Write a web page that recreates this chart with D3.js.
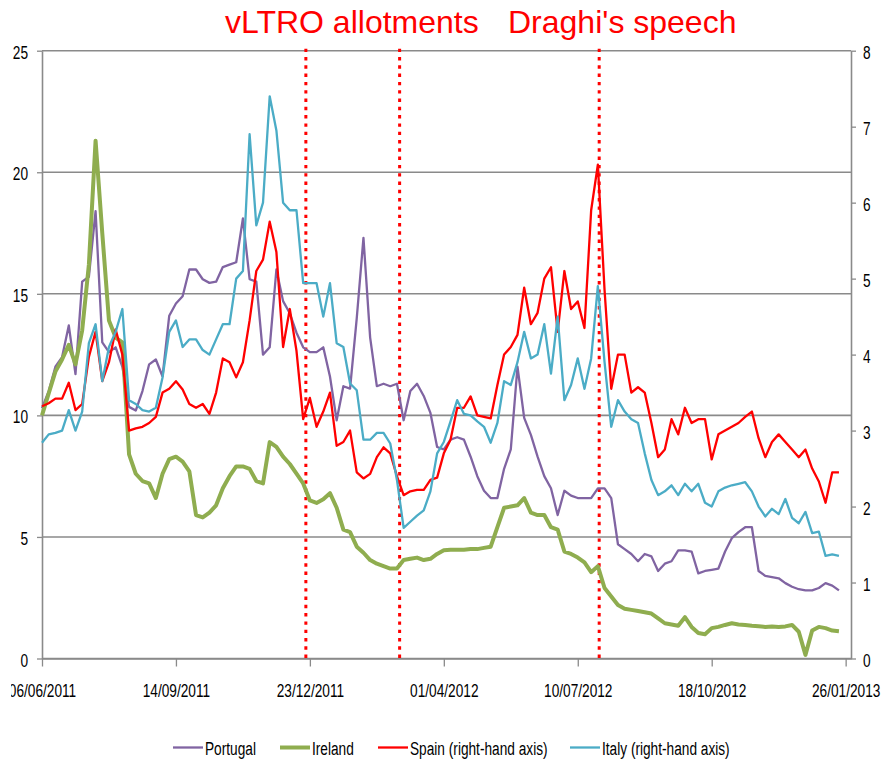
<!DOCTYPE html>
<html>
<head>
<meta charset="utf-8">
<script src="https://cdn.jsdelivr.net/npm/d3@7"></script>
<style>
body { margin: 0; background: #fff; }
svg { display: block; }
</style>
</head>
<body>
<svg id="chart"></svg>
<script>
// data, one value every 5 days from 06/06/2011
var startDate = "2011-06-06";
var stepDays = 5;

var portugal = [10.3, 11.0, 12.0, 12.4, 13.7, 11.7, 15.5, 15.7, 18.4, 13.0,
  12.6, 12.8, 12.0, 10.35, 10.2, 11.0, 12.1, 12.3, 11.6, 14.1,
  14.6, 14.9, 16.0, 16.0, 15.6, 15.45, 15.5, 16.1, 16.2, 16.3,
  18.1, 15.6, 15.5, 12.5, 12.8, 16.0, 14.7, 14.2, 13.4, 12.8,
  12.6, 12.6, 12.8, 11.6, 9.8, 11.2, 11.1, 14.0, 17.3, 13.2,
  11.2, 11.3, 11.2, 11.3, 9.8, 11.0, 11.3, 10.8, 10.1, 8.7,
  8.6, 9.0, 9.1, 9.0, 8.3, 7.5, 6.9, 6.6, 6.6, 7.8,
  8.6, 12.0, 9.9, 9.2, 8.3, 7.5, 7.0, 5.9, 6.9, 6.7,
  6.6, 6.6, 6.6, 7.0, 7.0, 6.6, 4.7, 4.5, 4.3, 4.0,
  4.3, 4.2, 3.6, 3.9, 4.0, 4.45, 4.45, 4.4, 3.5, 3.6,
  3.65, 3.7, 4.4, 4.95, 5.2, 5.4, 5.4, 3.6, 3.4, 3.35,
  3.3, 3.1, 2.95, 2.85, 2.8, 2.8, 2.9, 3.1, 3.0, 2.8];

var ireland = [10.0, 10.9, 11.8, 12.3, 12.9, 12.1, 13.5, 16.2, 21.3, 17.5,
  13.9, 13.2, 13.0, 8.4, 7.6, 7.3, 7.2, 6.6, 7.6, 8.2,
  8.3, 8.1, 7.7, 5.9, 5.8, 6.0, 6.3, 7.0, 7.5, 7.9,
  7.9, 7.8, 7.3, 7.2, 8.9, 8.7, 8.3, 8.0, 7.6, 7.2,
  6.5, 6.4, 6.55, 6.8, 6.2, 5.3, 5.2, 4.6, 4.35, 4.05,
  3.9, 3.8, 3.7, 3.7, 4.05, 4.1, 4.15, 4.05, 4.1, 4.3,
  4.45, 4.47, 4.47, 4.47, 4.5, 4.5, 4.55, 4.6, 5.4, 6.2,
  6.25, 6.3, 6.6, 6.0, 5.9, 5.9, 5.4, 5.3, 4.4, 4.3,
  4.15, 3.95, 3.55, 3.8, 2.9, 2.55, 2.2, 2.05, 2.0, 1.95,
  1.9, 1.85, 1.65, 1.45, 1.4, 1.35, 1.7, 1.3, 1.05, 1.0,
  1.25, 1.3, 1.38, 1.45, 1.4, 1.38, 1.35, 1.33, 1.3, 1.32,
  1.3, 1.32, 1.38, 1.1, 0.15, 1.15, 1.3, 1.25, 1.15, 1.12];

var spain = [3.32, 3.36, 3.42, 3.42, 3.63, 3.27, 3.35, 3.97, 4.3, 3.65,
  3.9, 4.33, 4.0, 3.0, 3.03, 3.05, 3.1, 3.18, 3.5, 3.55,
  3.65, 3.54, 3.35, 3.3, 3.35, 3.22, 3.5, 3.95, 3.9, 3.7,
  3.9, 4.45, 5.1, 5.25, 5.75, 5.35, 4.1, 4.6, 4.05, 3.15,
  3.43, 3.05, 3.25, 3.5, 2.8, 2.85, 3.0, 2.45, 2.37, 2.43,
  2.65, 2.78, 2.7, 2.4, 2.15, 2.2, 2.22, 2.22, 2.35, 2.38,
  2.7, 2.88, 3.3, 3.3, 3.45, 3.2, 3.18, 3.16, 3.6, 4.0,
  4.1, 4.26, 4.88, 4.4, 4.55, 5.0, 5.15, 4.3, 5.1, 4.6,
  4.7, 4.35, 5.9, 6.5, 4.85, 3.55, 4.0, 4.0, 3.5, 3.57,
  3.5, 3.1, 2.65, 2.75, 3.15, 2.95, 3.3, 3.1, 3.15, 3.15,
  2.62, 2.95, 3.0, 3.05, 3.1, 3.18, 3.25, 2.9, 2.65, 2.85,
  2.95, 2.85, 2.75, 2.65, 2.75, 2.5, 2.33, 2.05, 2.45, 2.45];

var italy = [2.84, 2.95, 2.97, 3.0, 3.27, 3.0, 3.25, 4.15, 4.4, 3.65,
  4.1, 4.3, 4.6, 3.4, 3.35, 3.27, 3.25, 3.3, 3.7, 4.3,
  4.45, 4.1, 4.2, 4.2, 4.06, 4.0, 4.2, 4.4, 4.4, 5.0,
  5.1, 6.9, 5.7, 6.0, 7.4, 6.95, 6.0, 5.9, 5.9, 4.94,
  4.94, 4.94, 4.5, 4.94, 4.15, 4.1, 3.62, 3.53, 2.88, 2.88,
  2.97, 2.97, 2.83, 2.35, 1.72, 1.8, 1.88, 1.95, 2.2, 2.7,
  2.85, 3.12, 3.4, 3.22, 3.2, 3.12, 3.05, 2.84, 3.1, 3.65,
  3.6, 3.9, 4.3, 3.95, 4.0, 4.4, 3.75, 4.5, 3.4, 3.6,
  3.95, 3.55, 3.95, 4.9, 3.9, 3.05, 3.4, 3.25, 3.15, 3.1,
  2.7, 2.35, 2.15, 2.2, 2.28, 2.15, 2.3, 2.2, 2.3, 2.05,
  2.0, 2.2, 2.25, 2.28, 2.3, 2.32, 2.2, 2.0, 1.87, 1.97,
  1.9, 2.1, 1.85, 1.78, 1.93, 1.65, 1.67, 1.35, 1.37, 1.35];

var dateTicks = ["2011-06-06", "2011-09-14", "2011-12-23", "2012-04-01",
  "2012-07-10", "2012-10-18", "2013-01-26"];
var leftTicks = [0, 5, 10, 15, 20, 25];
var rightTicks = [0, 1, 2, 3, 4, 5, 6, 7, 8];
var eventDates = ["2011-12-20", "2012-02-28", "2012-07-26"];
var legendNames = ["Portugal", "Ireland", "Spain (right-hand axis)", "Italy (right-hand axis)"];

// layout
var W = 883, H = 760;
var x0 = 42, x1 = 851, yTop = 50.7, yBot = 658.5;
var grey = "#8a8a8a";
var labelFont = "'Liberation Sans', Arial, sans-serif";
var labelSize = 19, squeeze = "scale(0.72,1)";

var svg = d3.select("#chart").attr("width", W).attr("height", H);

var parse = d3.utcParse("%Y-%m-%d");
var fmt = d3.utcFormat("%d/%m/%Y");
var start = parse(startDate);
var dates = portugal.map(function(d, i){ return d3.utcDay.offset(start, i * stepDays); });

var x = d3.scaleUtc()
  .domain([start, parse("2013-01-30")])
  .range([x0, x1]);
var yLeft = d3.scaleLinear().domain([0, 25]).range([yBot, yTop]);
var yRight = d3.scaleLinear().domain([0, 8]).range([yBot, yTop]);

// gridlines
svg.append("g").selectAll("line")
  .data(leftTicks).enter().append("line")
  .attr("x1", x0).attr("x2", x1)
  .attr("y1", function(d){ return yLeft(d); })
  .attr("y2", function(d){ return yLeft(d); })
  .attr("stroke", grey).attr("stroke-width", 1.6);

// axes
function styleAxis(g) {
  g.select(".domain").attr("stroke", grey).attr("stroke-width", 1.6);
  g.selectAll(".tick line").attr("stroke", grey).attr("stroke-width", 1.3);
  g.selectAll(".tick text")
    .attr("font-family", labelFont)
    .attr("font-size", labelSize)
    .attr("fill", "#000")
    .attr("dy", null);
}

var leftAxis = svg.append("g")
  .attr("transform", "translate(" + x0 + ",0)")
  .call(d3.axisLeft(yLeft).tickValues(leftTicks).tickSize(5).tickSizeOuter(0));
styleAxis(leftAxis);
leftAxis.selectAll(".tick text")
  .attr("x", null).attr("y", 7.5)
  .attr("text-anchor", "end")
  .attr("transform", "translate(-14,0) " + squeeze);

var rightAxis = svg.append("g")
  .attr("transform", "translate(" + x1 + ",0)")
  .call(d3.axisRight(yRight).tickValues(rightTicks).tickSize(5).tickSizeOuter(0));
styleAxis(rightAxis);
rightAxis.selectAll(".tick text")
  .attr("x", null).attr("y", 7.5)
  .attr("text-anchor", "start")
  .attr("transform", "translate(12,0) " + squeeze);

svg.append("clipPath").attr("id", "bottomClip")
  .append("rect").attr("x", 11).attr("y", -20).attr("width", W).attr("height", 120);

var bottomAxis = svg.append("g")
  .attr("transform", "translate(0," + yBot + ")")
  .attr("clip-path", "url(#bottomClip)")
  .call(d3.axisBottom(x).tickValues(dateTicks.map(parse)).tickFormat(fmt)
    .tickSize(8).tickSizeOuter(0));
styleAxis(bottomAxis);
bottomAxis.selectAll(".tick text")
  .attr("y", 39)
  .attr("transform", squeeze);

// event lines
svg.append("g").selectAll("line")
  .data(eventDates).enter().append("line")
  .attr("x1", function(d){ return x(parse(d)); })
  .attr("x2", function(d){ return x(parse(d)); })
  .attr("y1", yTop - 2).attr("y2", yBot + 2)
  .attr("stroke", "#ff0000").attr("stroke-width", 3)
  .attr("stroke-dasharray", "3.4,4.9");

svg.append("text").text("vLTRO allotments")
  .attr("x", 225).attr("y", 32.5)
  .attr("font-family", labelFont).attr("font-size", 32).attr("fill", "#ff0000");
svg.append("text").text("Draghi's speech")
  .attr("x", 508).attr("y", 32.5)
  .attr("font-family", labelFont).attr("font-size", 32).attr("fill", "#ff0000");

// series
var series = [
  { name: legendNames[0], values: portugal, y: yLeft, color: "#8064a2", width: 2.3 },
  { name: legendNames[1], values: ireland, y: yLeft, color: "#8fad4f", width: 4 },
  { name: legendNames[2], values: spain, y: yRight, color: "#ff0000", width: 2.3 },
  { name: legendNames[3], values: italy, y: yRight, color: "#4bacc6", width: 2.3 }
];

series.forEach(function(s){
  var line = d3.line()
    .x(function(d, i){ return x(dates[i]); })
    .y(function(d){ return s.y(d); });
  svg.append("path")
    .datum(s.values)
    .attr("d", line)
    .attr("fill", "none")
    .attr("stroke", s.color)
    .attr("stroke-width", s.width)
    .attr("stroke-linejoin", "round");
});

// legend
var legendX = [173, 280, 378, 570];
var legend = svg.append("g").selectAll("g")
  .data(series).enter().append("g")
  .attr("transform", function(d, i){ return "translate(" + legendX[i] + ",747.5)"; });

legend.append("line")
  .attr("x1", 0).attr("x2", 30)
  .attr("stroke", function(d){ return d.color; })
  .attr("stroke-width", function(d){ return d.width; });

legend.append("text")
  .text(function(d){ return d.name; })
  .attr("transform", "translate(32,7.5) " + squeeze)
  .attr("font-family", labelFont)
  .attr("font-size", labelSize)
  .attr("fill", "#000");
</script>
</body>
</html>
